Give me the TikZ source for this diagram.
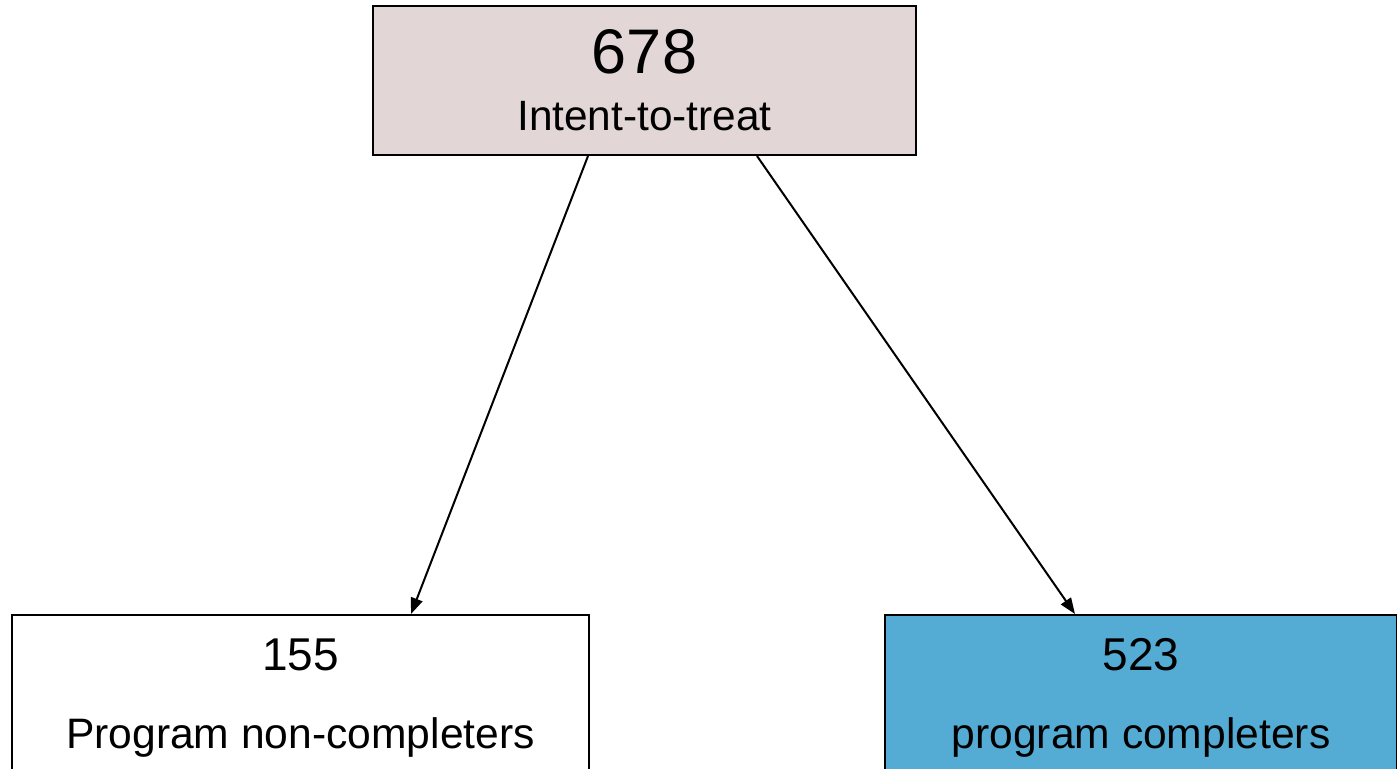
\documentclass[tikz,border=0pt]{standalone}
\usepackage{fontspec}
\setmainfont{Liberation Sans}
\usetikzlibrary{arrows.meta,positioning,calc}
\definecolor{ittfill}{HTML}{E2D6D6}
\definecolor{compfill}{HTML}{54ACD4}
\pgfdeclareradialshading{slidebg}{\pgfpoint{0bp}{0bp}}{color(0bp)=(white); color(30bp)=(white); color(48bp)=(black!9); color(60bp)=(black!12)}

\begin{document}
\begin{tikzpicture}[
    x=0.5pt, y=-0.5pt,
    >={Triangle[length=8pt,width=6pt]},
    box/.style={draw, line width=1pt, rectangle, align=center, inner sep=2pt},
    count_box/.style={box, minimum height=83pt, anchor=north, font=\fontsize{21.3}{39}\selectfont},
    flow/.style={->, line width=1pt}
]

% --- BACKGROUND ---
\clip (0,0) rectangle (1397,768);
\shade[shading=slidebg] (-300,-200) rectangle (1400,900);

% --- NODES ---

% Top: everyone enrolled
\node[box, fill=ittfill, minimum width=271.5pt, minimum height=74.5pt, font=\fontsize{21.2}{28.5}\selectfont] (itt) at (644.5,80.5) {{\fontsize{31.5}{31.5}\selectfont 678}\\Intent-to-treat};

% Bottom: split by completion
\node[count_box, fill=white, minimum width=288.5pt] (noncomp) at (300.5,614) {{\fontsize{23}{23}\selectfont 155}\\Program non-completers};
\node[count_box, fill=compfill, minimum width=256pt] (comp) at (1141,614) {{\fontsize{23}{23}\selectfont 523}\\program completers};

% --- EDGES ---
\draw[flow] ($(itt.south)+(-56.5,0)$) -- ($(noncomp.north)+(110.5,0)$);
\draw[flow] ($(itt.south)+(112.5,0)$) -- ($(comp.north)+(-66,0)$);

\end{tikzpicture}
\end{document}
